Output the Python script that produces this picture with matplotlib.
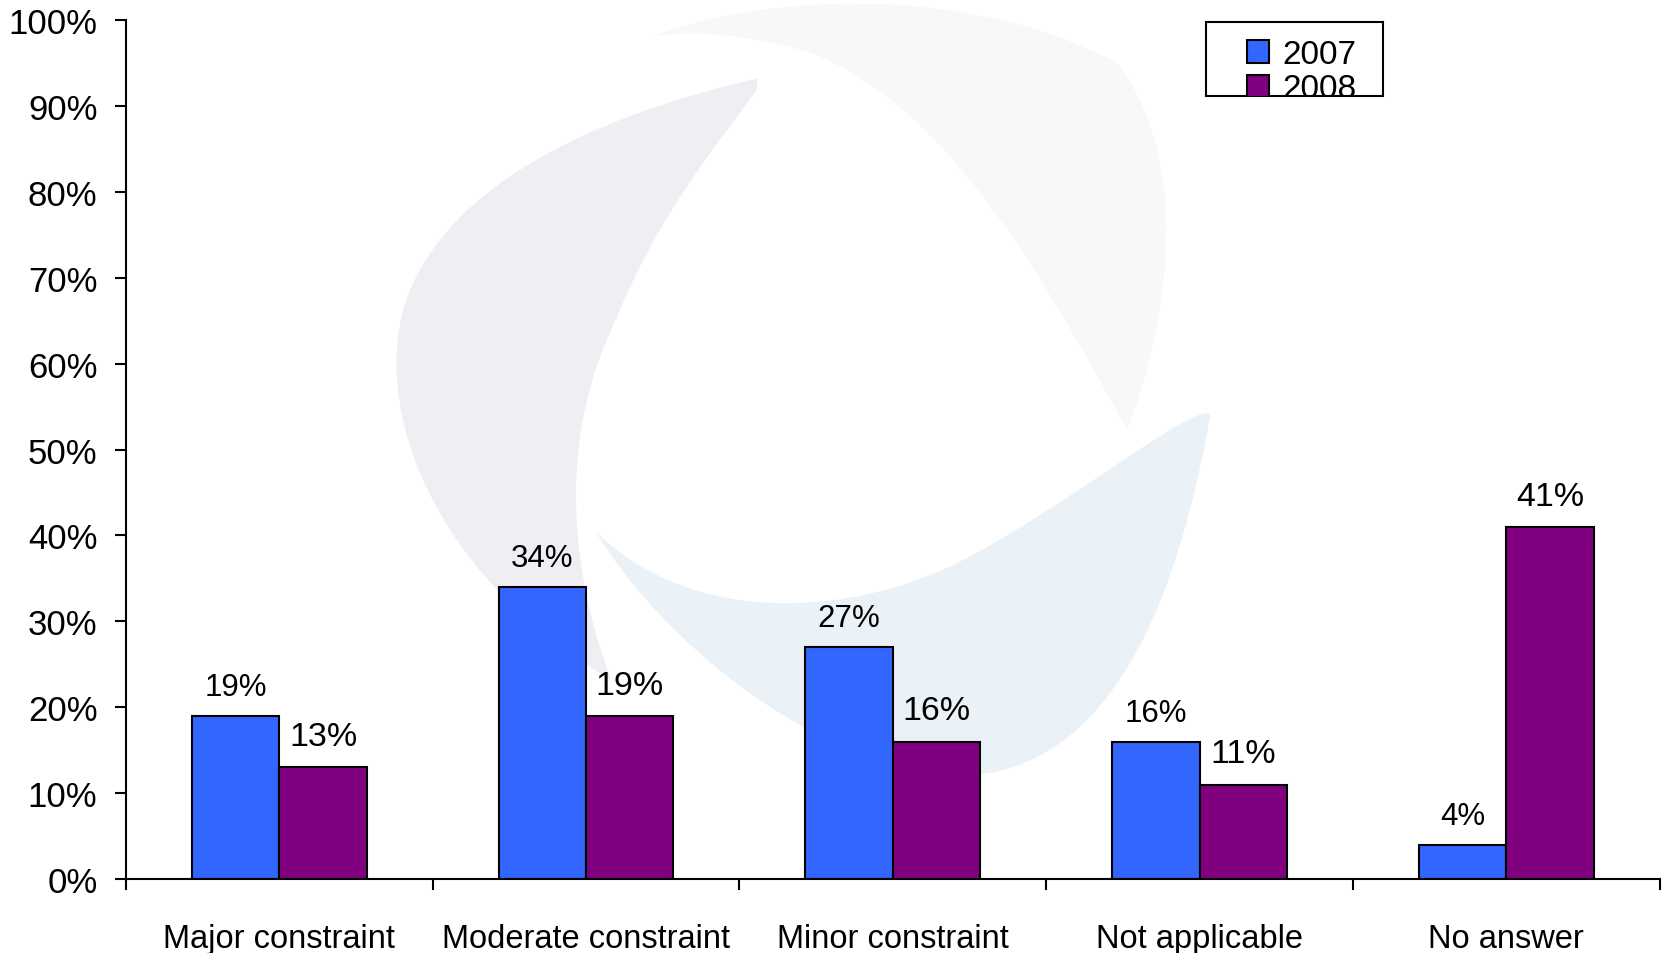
import matplotlib.pyplot as plt
import numpy as np
from matplotlib.path import Path
from matplotlib.patches import PathPatch, Rectangle

plt.rcParams['font.family'] = ['Liberation Sans', 'DejaVu Sans']

categories = ['Major constraint', 'Moderate constraint', 'Minor constraint',
              'Not applicable', 'No answer']
years = ['2007', '2008']
vals_2007 = [19, 34, 27, 16, 4]
vals_2008 = [13, 19, 16, 11, 41]
yticks = np.arange(0, 101, 10)

blue = '#3366FF'
purple = '#800080'

fig = plt.figure(figsize=(16.68, 9.54), dpi=100)
ax = fig.add_axes([0.0755, 0.0776, 0.9195, 0.9001])

# faint logo watermark behind the bars (shown-pixel coords -> axes fraction)
def px(pts):
    return [((x - 119) / 1441, (827 - y) / 807) for x, y in pts]

def blob(pts, color):
    codes = [Path.MOVETO] + [Path.CURVE4] * (len(pts) - 2) + [Path.CLOSEPOLY]
    p = Path(px(pts), codes)
    ax.add_patch(PathPatch(p, facecolor=color, edgecolor='none',
                           transform=ax.transAxes, zorder=0, clip_on=False))

blob([(712, 75), (600, 100), (420, 160), (380, 290),
      (350, 400), (420, 550), (575, 640),
      (530, 520), (530, 400), (580, 300),
      (620, 200), (680, 130), (712, 85), (712, 75)], '#EFEEF3')
blob([(560, 500), (620, 600), (760, 720), (900, 730),
      (1050, 730), (1110, 550), (1138, 390),
      (1120, 380), (1000, 480), (900, 530),
      (800, 580), (650, 590), (560, 500), (560, 500)], '#EAF2F8')
blob([(615, 35), (700, 0), (900, -20), (1050, 60),
      (1120, 150), (1100, 300), (1060, 405),
      (1000, 300), (900, 100), (760, 50),
      (700, 32), (650, 30), (615, 35), (615, 35)], '#F8F8FB')

x = np.arange(len(categories))
w = 0.285
b1 = ax.bar(x - w / 2, vals_2007, w, color=blue, edgecolor='black',
            linewidth=1.5, label=years[0], zorder=2)
b2 = ax.bar(x + w / 2, vals_2008, w, color=purple, edgecolor='black',
            linewidth=1.5, label=years[1], zorder=2)

for r, v in zip(b1, vals_2007):
    ax.annotate(f'{v}%', (r.get_x() + r.get_width() / 2, v),
                xytext=(0, 10), textcoords='offset points',
                ha='center', va='bottom', fontsize=22.5)
for r, v in zip(b2, vals_2008):
    ax.annotate(f'{v}%', (r.get_x() + r.get_width() / 2, v),
                xytext=(0, 11), textcoords='offset points',
                ha='center', va='bottom', fontsize=24.5)

ax.set_xlim(-0.5, len(categories) - 0.5)
ax.set_ylim(0, 100)
ax.set_yticks(yticks)
ax.set_yticklabels([f'{t}%' for t in yticks], fontsize=25)
ax.tick_params(axis='y', direction='out', length=8, width=1.5, pad=12.5)

ax.set_xticks(x)
ax.set_xticklabels(categories, fontsize=23.5)
ax.set_xticks(np.arange(len(categories) + 1) - 0.5, minor=True)
ax.tick_params(axis='x', which='major', length=0, pad=32)
ax.tick_params(axis='x', which='minor', direction='out', length=8, width=1.5)

for s in ['top', 'right']:
    ax.spines[s].set_visible(False)
for s in ['left', 'bottom']:
    ax.spines[s].set_linewidth(1.5)

# legend box: the second entry is cut off by the frame, as in the original
box = Rectangle((0.7044, 0.912), 0.1152, 0.0855, transform=ax.transAxes,
                facecolor='white', edgecolor='black', linewidth=1.5,
                zorder=4, clip_on=False)
ax.add_patch(box)
leg = ax.legend(loc='center left', bbox_to_anchor=(0.731, 0.940),
                fontsize=24, frameon=False, borderpad=0,
                labelspacing=0.1, handlelength=0.65, handleheight=0.65,
                handletextpad=0.4, borderaxespad=0)
leg.set_zorder(5)
for art in list(leg.get_texts()) + list(leg.legend_handles):
    art.set_clip_path(box)

fig.savefig('out.png', dpi=100)
